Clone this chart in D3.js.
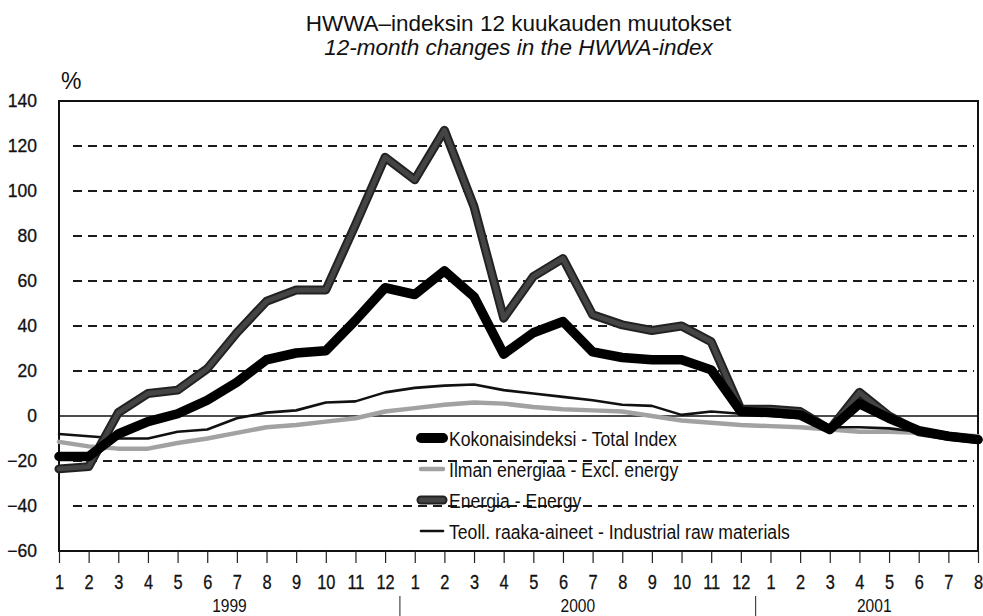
<!DOCTYPE html>
<html>
<head>
<meta charset="utf-8">
<script src="https://cdn.jsdelivr.net/npm/d3@7"></script>
<style>
  html, body { margin: 0; padding: 0; background: #fff; }
  svg { display: block; }
  .reg { font-family: 'Liberation Sans', Arial, sans-serif; }
</style>
</head>
<body>
<svg id="chart" width="983" height="616"></svg>
<script>
// ---- data ----
const monthLabels = ["1","2","3","4","5","6","7","8","9","10","11","12",
                     "1","2","3","4","5","6","7","8","9","10","11","12",
                     "1","2","3","4","5","6","7","8"];
const yearLabels = ["1999", "2000", "2001"];
const yearMonthCounts = [12, 12, 8];

const totalIndex = [-18, -18, -8, -2.5, 1, 7, 15, 25, 28, 29, 42.5, 57,
                    54, 64.5, 53, 27.5, 37, 42, 28.5, 26, 25, 25, 20.5, 2,
                    1.5, 0.5, -6, 5.5, -1, -6.5, -9, -10.5];
const exclEnergy = [-11.5, -13.5, -14.5, -14.5, -12, -10, -7.5, -5, -4, -2.5, -1, 2,
                    3.5, 5, 6, 5.5, 4, 3, 2.5, 2, 0, -2, -3, -4,
                    -4.5, -5, -6, -7, -7, -7.5, -8, -9];
const energy = [-23.5, -22.5, 1.5, 10, 11.5, 21, 37, 51, 56, 56, 85, 115,
                105, 127, 93, 43.5, 62, 70, 45, 40.5, 38, 40, 33, 3,
                3, 2, -6, 10.5, 0, -7, -9, -10.5];
const industrial = [-8, -9, -10, -10, -7, -6, -1, 1.5, 2.5, 6, 6.5, 10.5,
                    12.5, 13.5, 14, 11.5, 10, 8.5, 7, 5, 4.5, 0.5, 2, 1,
                    0, -1, -5, -5, -5.5, -7, -8.5, -10];
const yTicks = [-60, -40, -20, 0, 20, 40, 60, 80, 100, 120, 140];

const seriesNames = ["Kokonaisindeksi - Total Index",
                     "Ilman energiaa - Excl. energy",
                     "Energia - Energy",
                     "Teoll. raaka-aineet - Industrial raw materials"];

// ---- layout ----
const L = 59, R = 978, T = 101, B = 551;
const NARROW = 0.82;
const svg = d3.select("#chart");

const x = d3.scaleLinear().domain([0, monthLabels.length - 1]).range([L, R]);
const y = d3.scaleLinear().domain([-60, 140]).range([B, T]);

// titles
svg.append("text").attr("class", "reg")
  .attr("x", (L + R) / 2).attr("y", 31).attr("text-anchor", "middle")
  .attr("font-size", 22.5).attr("fill", "#111").text("HWWA–indeksin 12 kuukauden muutokset");
svg.append("text").attr("class", "reg")
  .attr("x", (L + R) / 2).attr("y", 55).attr("text-anchor", "middle")
  .attr("font-size", 22.5).attr("font-style", "italic").attr("fill", "#111")
  .text("12-month changes in the HWWA-index");
svg.append("text").attr("class", "reg")
  .attr("x", 61).attr("y", 89).attr("font-size", 23).attr("fill", "#111").text("%");

// gridlines
const gridVals = yTicks.filter(v => v !== 0 && v !== -60 && v !== 140);
svg.append("g").selectAll("line").data(gridVals).join("line")
  .attr("x1", L + 14).attr("x2", R - 4)
  .attr("y1", d => y(d)).attr("y2", d => y(d))
  .attr("stroke", "#1a1a1a").attr("stroke-width", 1.8)
  .attr("stroke-dasharray", "9,6");

// zero line
svg.append("line").attr("x1", L).attr("x2", R)
  .attr("y1", y(0)).attr("y2", y(0))
  .attr("stroke", "#111").attr("stroke-width", 1.5);

// frame
svg.append("rect").attr("x", L).attr("y", T).attr("width", R - L).attr("height", B - T)
  .attr("fill", "none").attr("stroke", "#111").attr("stroke-width", 2);

// y axis
const yAxis = svg.append("g").attr("transform", `translate(${L},0)`)
  .call(d3.axisLeft(y).tickValues(yTicks).tickSize(0).tickPadding(22));
yAxis.select(".domain").remove();
yAxis.selectAll("text").attr("class", "reg").attr("font-size", 17.5).attr("fill", "#111")
  .attr("stroke", "#111").attr("stroke-width", 0.3);

// x axis
const xAxis = svg.append("g").attr("transform", `translate(0,${B})`)
  .call(d3.axisBottom(x).tickValues(d3.range(monthLabels.length))
    .tickFormat(i => monthLabels[i]).tickSize(12).tickPadding(12));
xAxis.select(".domain").remove();
xAxis.selectAll("line").attr("stroke", "#222").attr("stroke-width", 1.2);
xAxis.selectAll("text").attr("class", "reg").attr("font-size", 20).attr("fill", "#111")
  .attr("stroke", "#111").attr("stroke-width", 0.3)
  .attr("transform", `scale(${NARROW},1)`);

// year labels and dividers
let start = 0;
const yearBounds = [];
yearMonthCounts.forEach((n, k) => {
  const a = start - (k === 0 ? 0 : 0.5);
  const b = start + n - 0.5;
  yearBounds.push([a, b]);
  start += n;
});
svg.append("g").selectAll("g").data(yearLabels).join("g")
  .attr("transform", (d, k) => `translate(${(x(yearBounds[k][0]) + x(yearBounds[k][1])) / 2},612) scale(${NARROW},1)`)
  .append("text").attr("class", "reg")
  .attr("text-anchor", "middle").attr("font-size", 19).attr("fill", "#111")
  .text(d => d);
svg.append("g").selectAll("line").data(yearBounds.slice(1)).join("line")
  .attr("x1", d => x(d[0])).attr("x2", d => x(d[0]))
  .attr("y1", 596).attr("y2", 616)
  .attr("stroke", "#222").attr("stroke-width", 1);

// lines
const lineGen = d3.line().x((d, i) => x(i)).y(d => y(d));
const lg = svg.append("g");
function drawLine(data, stroke, width) {
  lg.append("path").datum(data).attr("d", lineGen)
    .attr("fill", "none").attr("stroke", stroke).attr("stroke-width", width)
    .attr("stroke-linejoin", "round").attr("stroke-linecap", "round");
}
drawLine(exclEnergy, "#a2a2a2", 4.5);
drawLine(industrial, "#111", 2.6);
drawLine(energy, "#222", 9);
drawLine(energy, "#444", 5);
drawLine(totalIndex, "#000", 9.5);

// legend
const legendItems = [
  { name: seriesNames[0], stroke: "#000", inner: null, width: 10 },
  { name: seriesNames[1], stroke: "#a2a2a2", inner: null, width: 4.5 },
  { name: seriesNames[2], stroke: "#222", inner: "#444", width: 9 },
  { name: seriesNames[3], stroke: "#111", inner: null, width: 2.6 }
];
const legBase = [446, 477, 508, 539];
const leg = svg.append("g");
legendItems.forEach((it, k) => {
  leg.append("line").attr("x1", 421).attr("x2", 443)
    .attr("y1", legBase[k] - 8).attr("y2", legBase[k] - 8)
    .attr("stroke", it.stroke).attr("stroke-width", it.width).attr("stroke-linecap", "round");
  if (it.inner) {
    leg.append("line").attr("x1", 421).attr("x2", 443)
      .attr("y1", legBase[k] - 8).attr("y2", legBase[k] - 8)
      .attr("stroke", it.inner).attr("stroke-width", 5).attr("stroke-linecap", "round");
  }
  leg.append("g").attr("transform", `translate(449,${legBase[k]}) scale(0.84,1)`)
    .append("text").attr("class", "reg")
    .attr("font-size", 21).attr("fill", "#111").text(it.name);
});
</script>
</body>
</html>
